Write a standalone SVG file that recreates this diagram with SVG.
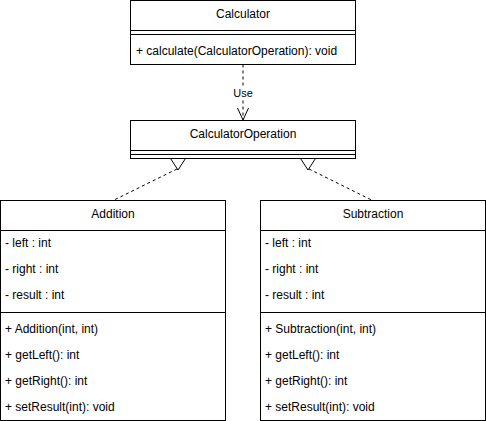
<svg xmlns="http://www.w3.org/2000/svg" width="486" height="421" viewBox="0 0 486 421">
  <style>
    .box { fill: #ffffff; stroke: #000000; stroke-width: 1; }
    .ln { stroke: #000000; stroke-width: 1; fill: none; }
    .dash { stroke: #000000; stroke-width: 1; fill: none; stroke-dasharray: 3 3; }
    .tri { fill: #ffffff; stroke: #000000; stroke-width: 1; }
    text { font-family: "Liberation Sans", Arial, Helvetica, sans-serif; font-size: 12px; fill: #000000; }
    .title { text-anchor: middle; }
    .lbl { font-size: 11px; text-anchor: middle; }
  </style>

  <rect width="486" height="421" fill="#ffffff"/>

  <!-- connectors -->
  <g id="connectors">
    <!-- Calculator uses CalculatorOperation -->
    <line class="dash" x1="243" y1="64.5" x2="243" y2="119.5"/>
    <rect x="232" y="86" width="22" height="13" fill="#ffffff"/>
    <text class="lbl" x="243" y="97">Use</text>
    <polyline class="ln" points="237.5,108 243,120 248.5,108"/>
    <!-- Addition realizes CalculatorOperation -->
    <line class="dash" x1="177" y1="169" x2="113" y2="200.5"/>
    <polygon class="tri" points="170.5,158.5 185.5,158.5 178,170"/>
    <!-- Subtraction realizes CalculatorOperation -->
    <line class="dash" x1="309" y1="169" x2="372.5" y2="200.5"/>
    <polygon class="tri" points="300.5,158.5 315.5,158.5 308,170"/>
  </g>

  <!-- Calculator -->
  <g id="calculator">
    <rect class="box" x="130.5" y="0.5" width="225" height="64"/>
    <line class="ln" x1="130.5" y1="30.5" x2="355.5" y2="30.5"/>
    <line class="ln" x1="130.5" y1="34.5" x2="355.5" y2="34.5"/>
    <text class="title" x="243" y="18">Calculator</text>
    <text x="136" y="55">+ calculate(CalculatorOperation): void</text>
  </g>

  <!-- CalculatorOperation -->
  <g id="calculator-operation">
    <rect class="box" x="130.5" y="120.5" width="225" height="38"/>
    <line class="ln" x1="130.5" y1="150.5" x2="355.5" y2="150.5"/>
    <line class="ln" x1="130.5" y1="154.5" x2="355.5" y2="154.5"/>
    <text class="title" x="243" y="138">CalculatorOperation</text>
  </g>

  <!-- Addition -->
  <g id="addition">
    <rect class="box" x="0.5" y="200.5" width="225" height="220"/>
    <line class="ln" x1="0.5" y1="230.5" x2="225.5" y2="230.5"/>
    <line class="ln" x1="0.5" y1="312.5" x2="225.5" y2="312.5"/>
    <text class="title" x="113" y="218">Addition</text>
    <text x="5" y="247">- left : int</text>
    <text x="5" y="273">- right : int</text>
    <text x="5" y="299">- result : int</text>
    <text x="5" y="333">+ Addition(int, int)</text>
    <text x="5" y="359">+ getLeft(): int</text>
    <text x="5" y="385">+ getRight(): int</text>
    <text x="5" y="411">+ setResult(int): void</text>
  </g>

  <!-- Subtraction -->
  <g id="subtraction">
    <rect class="box" x="260.5" y="200.5" width="225" height="220"/>
    <line class="ln" x1="260.5" y1="230.5" x2="485.5" y2="230.5"/>
    <line class="ln" x1="260.5" y1="312.5" x2="485.5" y2="312.5"/>
    <text class="title" x="373" y="218">Subtraction</text>
    <text x="265" y="247">- left : int</text>
    <text x="265" y="273">- right : int</text>
    <text x="265" y="299">- result : int</text>
    <text x="265" y="333">+ Subtraction(int, int)</text>
    <text x="265" y="359">+ getLeft(): int</text>
    <text x="265" y="385">+ getRight(): int</text>
    <text x="265" y="411">+ setResult(int): void</text>
  </g>
</svg>
